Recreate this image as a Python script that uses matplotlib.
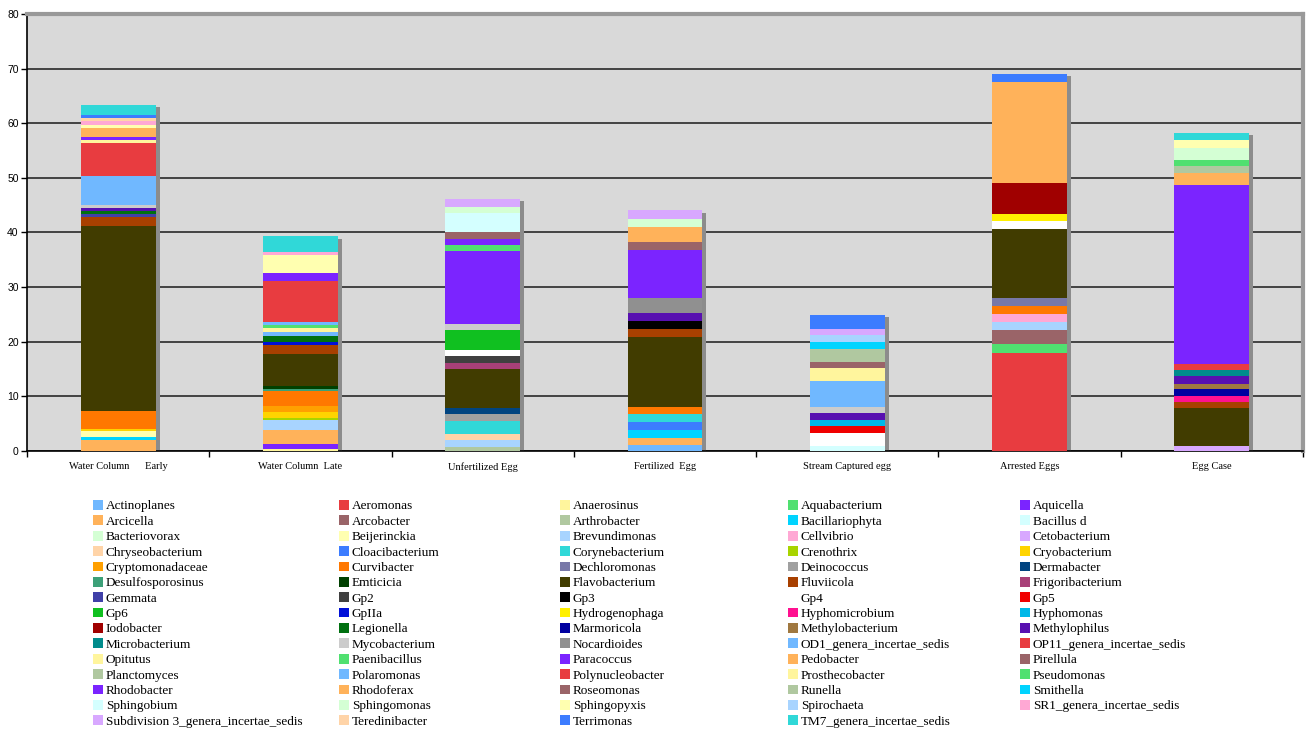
import matplotlib.pyplot as plt
from matplotlib.patches import Patch
import numpy as np

samples = ["Water Column      Early", "Water Column  Late", "Unfertilized Egg",
           "Fertilized  Egg", "Stream Captured egg", "Arrested Eggs", "Egg Case"]

genera = [
    "Actinoplanes", "Aeromonas", "Anaerosinus", "Aquabacterium", "Aquicella",
    "Arcicella", "Arcobacter", "Arthrobacter", "Bacillariophyta", "Bacillus d",
    "Bacteriovorax", "Beijerinckia", "Brevundimonas", "Cellvibrio", "Cetobacterium",
    "Chryseobacterium", "Cloacibacterium", "Corynebacterium", "Crenothrix", "Cryobacterium",
    "Cryptomonadaceae", "Curvibacter", "Dechloromonas", "Deinococcus", "Dermabacter",
    "Desulfosporosinus", "Emticicia", "Flavobacterium", "Fluviicola", "Frigoribacterium",
    "Gemmata", "Gp2", "Gp3", "Gp4", "Gp5",
    "Gp6", "GpIIa", "Hydrogenophaga", "Hyphomicrobium", "Hyphomonas",
    "Iodobacter", "Legionella", "Marmoricola", "Methylobacterium", "Methylophilus",
    "Microbacterium", "Mycobacterium", "Nocardioides", "OD1_genera_incertae_sedis", "OP11_genera_incertae_sedis",
    "Opitutus", "Paenibacillus", "Paracoccus", "Pedobacter", "Pirellula",
    "Planctomyces", "Polaromonas", "Polynucleobacter", "Prosthecobacter", "Pseudomonas",
    "Rhodobacter", "Rhodoferax", "Roseomonas", "Runella", "Smithella",
    "Sphingobium", "Sphingomonas", "Sphingopyxis", "Spirochaeta", "SR1_genera_incertae_sedis",
    "Subdivision 3_genera_incertae_sedis", "Teredinibacter", "Terrimonas", "TM7_genera_incertae_sedis",
]

# Excel palette; later genera reuse the first colours
palette = [
    "#70B8FF", "#E83C40", "#FFF59D", "#50E070", "#7B24FF", "#FFB25A", "#9A6468", "#B0C8A0",
    "#00D4FF", "#D4FFFF", "#D4FFD4", "#FFFFB0", "#A8D4FF", "#FFA8D4", "#D8A8FF", "#FFD4A8",
    "#3C7CFF", "#30D8D8", "#A8D400", "#FFD400", "#FFA000", "#FF7800", "#7878A8", "#A0A0A0",
    "#004480", "#3CA078", "#004000", "#413C00", "#A84000", "#A84078", "#4040A8", "#404040",
    "#000000", "#FFFFFF", "#F00000", "#10C020", "#0010D8", "#FFF000", "#FF1090", "#00B8E8",
    "#A00000", "#007010", "#0000A0", "#A07840", "#5810B0", "#008C8C", "#CCCCCC", "#909090",
]
colors = palette + palette[:8] + palette[:18]

water_early = {"Arcicella": 2.1, "Bacillariophyta": 0.5, "Beijerinckia": 1.1, "Cryobacterium": 0.3,
               "Curvibacter": 3.3, "Flavobacterium": 33.9, "Fluviicola": 1.7, "Gemmata": 0.4,
               "Legionella": 0.6, "Methylophilus": 0.6, "Mycobacterium": 0.5,
               "OD1_genera_incertae_sedis": 5.3, "OP11_genera_incertae_sedis": 6.1, "Opitutus": 0.5,
               "Paracoccus": 0.5, "Pedobacter": 1.7, "Sphingopyxis": 0.6,
               "SR1_genera_incertae_sedis": 0.8, "Teredinibacter": 0.5, "Terrimonas": 0.5,
               "TM7_genera_incertae_sedis": 1.8}
water_late = {"Anaerosinus": 0.3, "Aquicella": 0.9, "Arcicella": 2.7, "Brevundimonas": 1.8,
              "Crenothrix": 0.4, "Cryobacterium": 1.0, "Cryptomonadaceae": 1.1, "Curvibacter": 2.75,
              "Desulfosporosinus": 0.4, "Emticicia": 0.5, "Flavobacterium": 5.9, "Fluviicola": 1.65,
              "GpIIa": 0.5, "Legionella": 1.1, "OD1_genera_incertae_sedis": 0.85, "Opitutus": 0.65,
              "Paenibacillus": 0.6, "Polaromonas": 0.55, "Polynucleobacter": 7.5, "Rhodobacter": 1.4,
              "Sphingopyxis": 3.4, "SR1_genera_incertae_sedis": 0.55, "TM7_genera_incertae_sedis": 2.8}
unfertilized = {"Arthrobacter": 0.8, "Brevundimonas": 1.2, "Chryseobacterium": 1.1,
                "Corynebacterium": 2.4, "Deinococcus": 1.35, "Dermabacter": 1.0, "Flavobacterium": 7.1,
                "Frigoribacterium": 1.15, "Gp2": 1.35, "Gp4": 1.0, "Gp6": 3.7, "Mycobacterium": 1.1,
                "Paracoccus": 13.3, "Pseudomonas": 1.1, "Rhodobacter": 1.1, "Roseomonas": 1.3,
                "Sphingobium": 3.5, "Sphingomonas": 1.2, "Subdivision 3_genera_incertae_sedis": 1.4}
fertilized = {"Actinoplanes": 1.1, "Arcicella": 1.3, "Bacillariophyta": 1.5, "Cloacibacterium": 1.45,
              "Corynebacterium": 1.45, "Curvibacter": 1.3, "Flavobacterium": 12.8, "Fluviicola": 1.5,
              "Gp3": 1.45, "Methylophilus": 1.45, "Nocardioides": 2.75, "Paracoccus": 8.7,
              "Pirellula": 1.45, "Rhodoferax": 2.75, "Sphingomonas": 1.5,
              "Subdivision 3_genera_incertae_sedis": 1.6}
stream_egg = {"Bacillus d": 0.9, "Gp4": 2.4, "Gp5": 1.3, "Hyphomonas": 1.0, "Methylophilus": 1.35,
              "Mycobacterium": 1.1, "Polaromonas": 4.7, "Prosthecobacter": 2.45, "Roseomonas": 1.1,
              "Runella": 2.3, "Smithella": 1.35, "Spirochaeta": 1.2,
              "Subdivision 3_genera_incertae_sedis": 1.2, "Terrimonas": 2.6}
arrested = {"Aeromonas": 17.9, "Aquabacterium": 1.6, "Arcobacter": 2.7, "Brevundimonas": 1.5,
            "Cellvibrio": 1.4, "Curvibacter": 1.5, "Dechloromonas": 1.35, "Flavobacterium": 12.7,
            "Gp4": 1.45, "Hydrogenophaga": 1.35, "Iodobacter": 5.7, "Pedobacter": 18.4,
            "Terrimonas": 1.45}
egg_case = {"Cetobacterium": 0.85, "Flavobacterium": 7.0, "Fluviicola": 1.05, "Hyphomicrobium": 1.2,
            "Marmoricola": 1.2, "Methylobacterium": 1.05, "Methylophilus": 1.35, "Microbacterium": 1.1,
            "OP11_genera_incertae_sedis": 1.1, "Paracoccus": 32.8, "Pedobacter": 2.15,
            "Planctomyces": 1.35, "Pseudomonas": 1.15, "Sphingomonas": 2.2, "Sphingopyxis": 1.3,
            "TM7_genera_incertae_sedis": 1.4}

sample_data = [water_early, water_late, unfertilized, fertilized, stream_egg, arrested, egg_case]
values = np.array([[d.get(g, 0.0) for d in sample_data] for g in genera])

fig = plt.figure(figsize=(13.12, 7.32), dpi=100)
ax = fig.add_axes([27 / 1312, 1 - 451 / 732, (1303 - 27) / 1312, (451 - 14) / 732])
ax.set_facecolor("#D9D9D9")

x = np.arange(len(samples))
width = 0.41
totals = values.sum(axis=0)

# Excel-style drop shadow behind each stack
ax.bar(x + 0.022, totals - 0.4, width, color="#8C8C8C", zorder=2)

bottom = np.zeros(len(samples))
for i, g in enumerate(genera):
    ax.bar(x, values[i], width, bottom=bottom, color=colors[i], zorder=3, linewidth=0)
    bottom += values[i]

ax.set_xlim(-0.5, 6.5)
ax.set_ylim(0, 80)
ax.set_yticks(range(0, 81, 10))
ax.yaxis.grid(True, color="#1A1A1A", linewidth=1.1, zorder=1)
ax.set_axisbelow(True)

ax.set_xticks(x)
ax.set_xticklabels(samples, family="Liberation Serif", fontsize=7.5)
ax.set_xticks(np.arange(-0.5, 7, 1), minor=True)
ax.tick_params(axis="x", which="major", length=0, pad=8)
ax.tick_params(axis="x", which="minor", length=4, width=1, direction="out")
ax.tick_params(axis="y", length=4, width=1, labelsize=7.5, pad=2)
for lbl in ax.get_yticklabels():
    lbl.set_family("Liberation Sans")

for side in ["top", "right"]:
    ax.spines[side].set_color("#999999")
    ax.spines[side].set_linewidth(3)
for side in ["left", "bottom"]:
    ax.spines[side].set_color("black")
    ax.spines[side].set_linewidth(1.2)

# legend laid out row by row in five fixed columns
handles = [Patch(facecolor=c, edgecolor="none") for c in colors]
col_x = [93, 339, 560, 788, 1020]
for c, cx in enumerate(col_x):
    idx = list(range(c, len(genera), 5))
    fig.legend([handles[i] for i in idx], [genera[i] for i in idx],
               loc="upper left", bbox_to_anchor=(cx / 1312, 1 - 500 / 732),
               frameon=False, ncol=1, borderaxespad=0, borderpad=0,
               prop={"family": "Liberation Serif", "size": 9.5},
               handlelength=0.76, handleheight=0.76, handletextpad=0.2,
               labelspacing=0.22)

fig.savefig("out.png", dpi=100)
